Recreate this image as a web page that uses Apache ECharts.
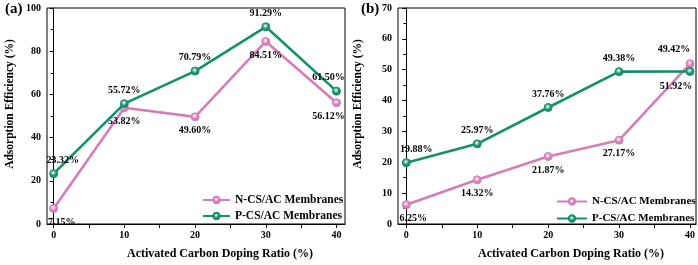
<!DOCTYPE html>
<html>
<head>
<meta charset="utf-8">
<script src="https://cdn.jsdelivr.net/npm/echarts@6/dist/echarts.min.js"></script>
<style>
  html, body { margin: 0; padding: 0; background: #fff; }
  #chart { width: 698px; height: 265px; }
</style>
</head>
<body>
<div id="chart"></div>
<script>
const ratios = [0, 10, 20, 30, 40]

// panel (a)
const nA = [7.15, 53.82, 49.60, 84.51, 56.12]
const pA = [23.32, 55.72, 70.79, 91.29, 61.50]
// panel (b)
const nB = [6.25, 14.32, 21.87, 27.17, 51.92]
const pB = [19.88, 25.97, 37.76, 49.38, 49.42]

const xLabels = [0, 10, 20, 30, 40]
const xTicks = [0, 5, 10, 15, 20, 25, 30, 35, 40]

const nameN = 'N-CS/AC Membranes'
const nameP = 'P-CS/AC Membranes'
const pink = '#d47db8'
const green = '#14906a'
const font = '"Liberation Serif", "Times New Roman", serif'

function makeX(idx, min, max) {
  return {
    type: 'value',
    gridIndex: idx,
    min: min,
    max: max,
    splitLine: { show: false },
    axisLine: { lineStyle: { color: '#000', width: 1 } },
    axisTick: { customValues: xTicks, length: 4, lineStyle: { color: '#000' } },
    axisLabel: { customValues: xLabels, color: '#000', fontFamily: font, fontWeight: 'bold', fontSize: 10, margin: 6 },
    name: 'Activated Carbon Doping Ratio (%)',
    nameLocation: 'middle',
    nameGap: 24,
    nameTextStyle: { color: '#000', fontFamily: font, fontWeight: 'bold', fontSize: 12, padding: [0, 0, 0, 48] }
  }
}

function makeY(idx, max, interval, gap) {
  return {
    type: 'value',
    gridIndex: idx,
    min: 0,
    max: max,
    interval: interval,
    splitLine: { show: false },
    axisLine: { show: true, lineStyle: { color: '#000', width: 1 } },
    axisTick: { show: true, length: 4, lineStyle: { color: '#000' } },
    minorTick: { show: true, splitNumber: 2, length: 3, lineStyle: { color: '#000' } },
    axisLabel: { color: '#000', fontFamily: font, fontWeight: 'bold', fontSize: 10, margin: 6 },
    name: 'Adsorption Efficiency (%)',
    nameLocation: 'middle',
    nameGap: gap,
    nameTextStyle: { color: '#000', fontFamily: font, fontWeight: 'bold', fontSize: 11.5, padding: [0, 0, 0, 24] }
  }
}

function ball(color) {
  return {
    type: 'radial', x: 0.45, y: 0.4, r: 0.6,
    colorStops: [{ offset: 0, color: '#ffffff' }, { offset: 0.55, color: color }, { offset: 1, color: color }]
  }
}

// offsets for the first and last labels, which sit off-centre in the original
function makeSeries(name, values, idx, color, pos, firstOffset, lastOffset) {
  return {
    name: name,
    type: 'line',
    xAxisIndex: idx,
    yAxisIndex: idx,
    data: values.map((v, i) => {
      const item = { value: [ratios[i], v] }
      if (i === 0) item.label = { offset: firstOffset }
      if (i === values.length - 1) item.label = { offset: lastOffset }
      return item
    }),
    symbol: 'circle',
    symbolSize: 8,
    lineStyle: { color: color, width: 2.6 },
    itemStyle: { color: ball(color), borderColor: color, borderWidth: 1 },
    label: {
      show: true,
      position: pos,
      distance: 4,
      color: '#000',
      fontFamily: font,
      fontWeight: 'bold',
      fontSize: 10,
      formatter: p => p.value[1].toFixed(2) + '%'
    },
    z: name === nameP ? 3 : 2
  }
}

const chart = echarts.init(document.getElementById('chart'))

chart.setOption({
  animation: false,
  title: [
    { text: '(a)', left: 0, top: -3, textStyle: { fontFamily: font, fontWeight: 'bold', fontSize: 15, color: '#000' } },
    { text: '(b)', left: 356, top: -3, textStyle: { fontFamily: font, fontWeight: 'bold', fontSize: 15, color: '#000' } }
  ],
  grid: [
    { left: 47, right: 353, top: 8, bottom: 35, show: true, borderColor: '#000', borderWidth: 1 },
    { left: 398, right: 2, top: 8, bottom: 36, show: true, borderColor: '#000', borderWidth: 1 }
  ],
  legend: [
    {
      data: [nameN, nameP],
      orient: 'vertical',
      left: 202,
      top: 194,
      padding: 0,
      itemWidth: 27,
      itemHeight: 8,
      itemGap: 4,
      textStyle: { fontFamily: font, fontWeight: 'bold', fontSize: 11.5, color: '#000' }
    },
    {
      data: [nameN, nameP],
      orient: 'vertical',
      left: 556,
      top: 196,
      padding: 0,
      itemWidth: 30,
      itemHeight: 8,
      itemGap: 6,
      textStyle: { fontFamily: font, fontWeight: 'bold', fontSize: 11, color: '#000' }
    }
  ],
  xAxis: [makeX(0, -0.94, 41.2), makeX(1, -1.17, 40.85)],
  yAxis: [makeY(0, 100, 20, 31), makeY(1, 70, 10, 34)],
  series: [
    makeSeries(nameN, nA, 0, pink, 'bottom', [8, 0], [-8, 0]),
    makeSeries(nameP, pA, 0, green, 'top', [9, 0], [-8, 0]),
    makeSeries(nameN, nB, 1, pink, 'bottom', [7, 0], [-14, 9]),
    makeSeries(nameP, pB, 1, green, 'top', [10, 0], [-16, -9])
  ]
})
</script>
</body>
</html>
